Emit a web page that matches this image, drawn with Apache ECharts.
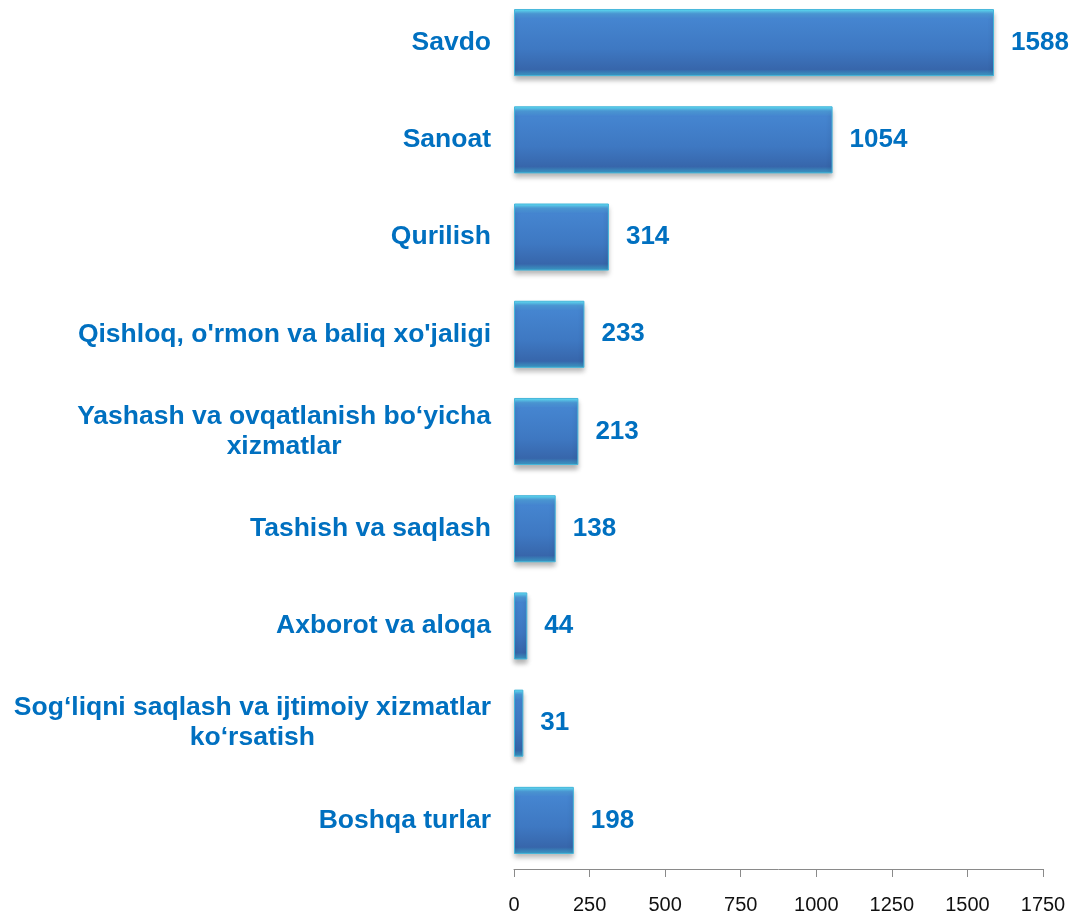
<!DOCTYPE html>
<html>
<head>
<meta charset="utf-8">
<script src="https://cdn.jsdelivr.net/npm/echarts@6/dist/echarts.min.js"></script>
<style>
  html, body { margin: 0; padding: 0; background: #fff; overflow: hidden; }
  #chart { position: relative; top: -6px; width: 1077px; height: 921px; }
</style>
</head>
<body>
<div id="chart"></div>
<script>
const categories = [
  "Savdo",
  "Sanoat",
  "Qurilish",
  "Qishloq, o'rmon va baliq xo'jaligi",
  "Yashash va ovqatlanish bo‘yicha\nxizmatlar",
  "Tashish va saqlash",
  "Axborot va aloqa",
  "Sog‘liqni saqlash va ijtimoiy xizmatlar\nko‘rsatish",
  "Boshqa turlar"
];
const values = [1588, 1054, 314, 233, 213, 138, 44, 31, 198];
const xTicks = { min: 0, max: 1750, interval: 250 };

const blue = "#0070C0";

const chart = echarts.init(document.getElementById("chart"));
chart.setOption({
  animation: false,
  grid: { left: 514, right: 34, top: 0, bottom: 46 },
  xAxis: {
    type: "value",
    min: xTicks.min,
    max: xTicks.max,
    interval: xTicks.interval,
    splitLine: { show: false },
    axisLine: { show: true, lineStyle: { color: "#8a8a8a", width: 1 } },
    axisTick: { show: true, length: 8, lineStyle: { color: "#8a8a8a", width: 1 } },
    axisLabel: {
      color: "#111",
      fontFamily: "Liberation Sans",
      fontSize: 20,
      margin: 26,
      formatter: function (v) { return String(v); }
    }
  },
  yAxis: {
    type: "category",
    data: categories,
    inverse: true,
    axisLine: { show: false },
    axisTick: { show: false },
    axisLabel: {
      margin: 23,
      formatter: function (v) {
        return v.split("\n").map(function (s) { return "{c|" + s + "}"; }).join("\n");
      },
      rich: {
        c: {
          align: "center",
          color: blue,
          fontFamily: "Liberation Sans",
          fontWeight: "bold",
          fontSize: 26.5,
          lineHeight: 30
        }
      }
    }
  },
  series: [{
    type: "bar",
    data: values,
    barWidth: "69%",
    itemStyle: {
      color: new echarts.graphic.LinearGradient(0, 0, 0, 1, [
        { offset: 0, color: "#62e6f8" },
        { offset: 0.07, color: "#4e9ddc" },
        { offset: 0.15, color: "#4585d0" },
        { offset: 0.6, color: "#3e78c2" },
        { offset: 0.9, color: "#3766ab" },
        { offset: 1, color: "#3b9cc4" }
      ]),
      borderColor: "#45b6da",
      borderWidth: 1,
      shadowColor: "rgba(0,0,0,0.3)",
      shadowBlur: 5,
      shadowOffsetY: 4
    },
    label: {
      show: true,
      position: "right",
      distance: 17,
      color: blue,
      fontFamily: "Liberation Sans",
      fontWeight: "bold",
      fontSize: 26
    }
  }]
});
</script>
</body>
</html>
